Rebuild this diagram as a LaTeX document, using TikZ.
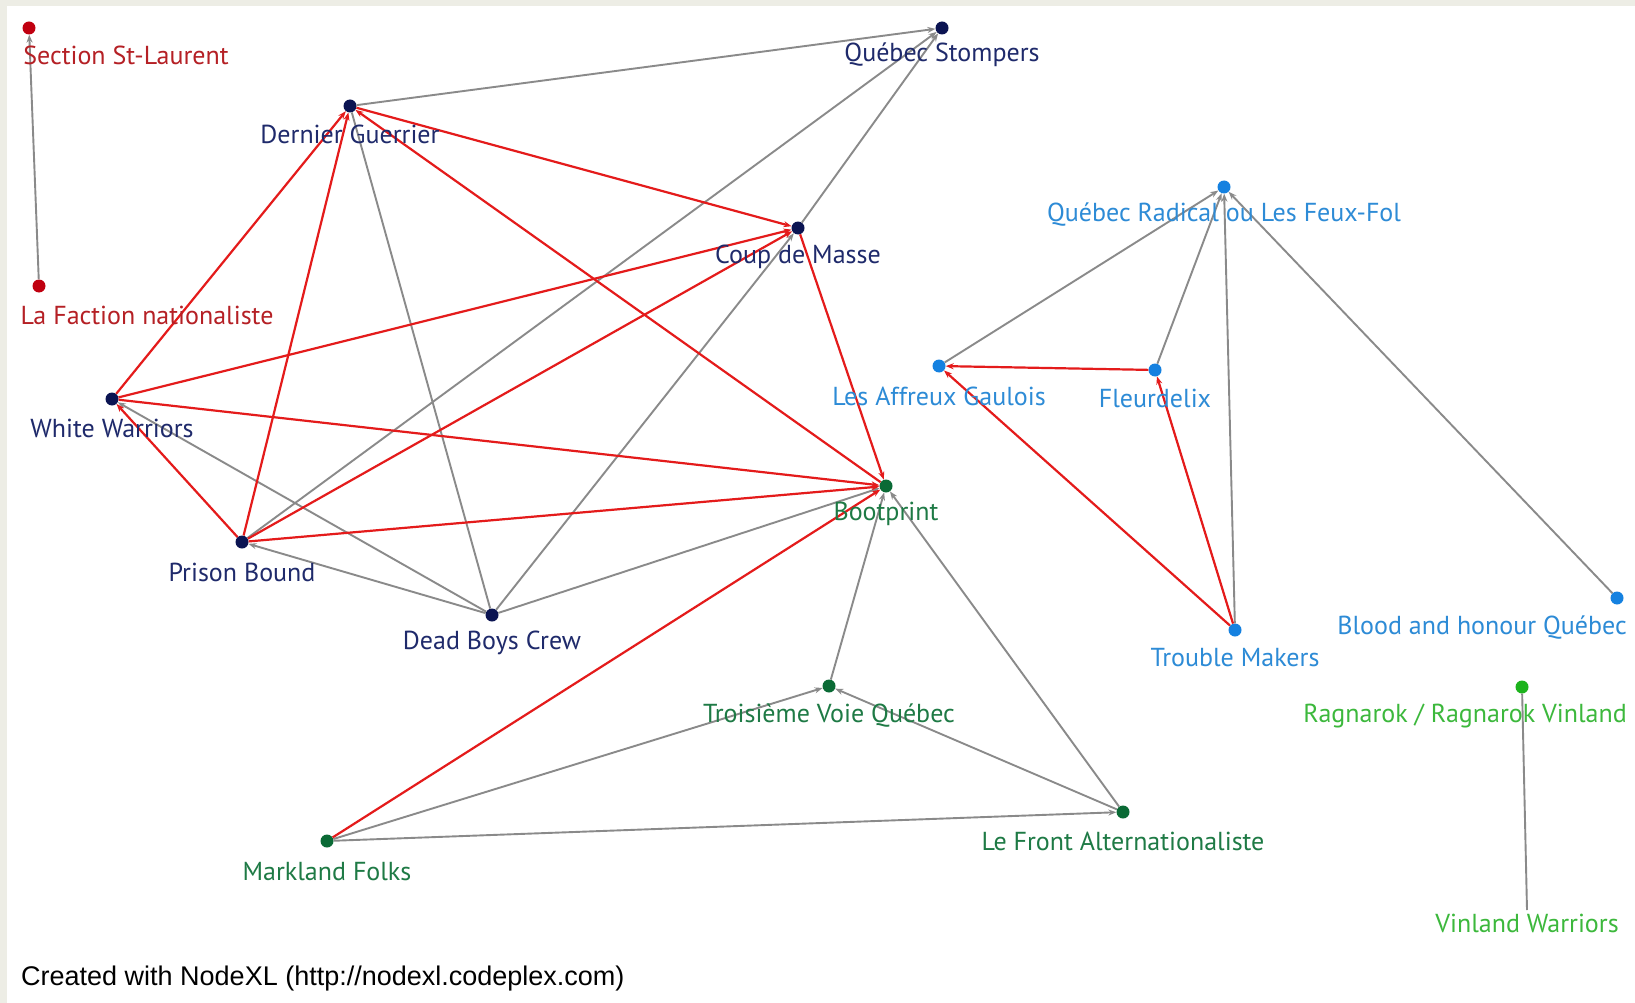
\documentclass[tikz,border=0pt]{standalone}
\usepackage{fontspec}
\setmainfont{PT Sans}
\newfontfamily\footfont{Liberation Sans}
\usetikzlibrary{arrows.meta}
\definecolor{frame}{HTML}{EDEDE5}
\definecolor{navyD}{HTML}{0B1452}
\definecolor{navyT}{HTML}{1F2A6B}
\definecolor{redD}{HTML}{C00010}
\definecolor{redT}{HTML}{B52025}
\definecolor{grnD}{HTML}{0A6A35}
\definecolor{grnT}{HTML}{1E7A45}
\definecolor{bluD}{HTML}{1581E0}
\definecolor{bluT}{HTML}{2D8BD6}
\definecolor{lgrD}{HTML}{1DB31D}
\definecolor{lgrT}{HTML}{3CB83C}
\definecolor{edgeG}{HTML}{8A8A8A}
\definecolor{edgeR}{HTML}{E41B1B}
\tikzset{
  vtx/.style={circle,inner sep=0pt,minimum size=13pt,fill=#1},
  lab/.style={inner sep=0pt,text=#1,font=\fontsize{26}{26}\selectfont},
  ge/.style={draw=edgeG,line width=1.9pt},
  re/.style={draw=edgeR,line width=2.2pt},
  tip/.style={-{Stealth[length=8pt,width=6pt]}},
}
\begin{document}
\begin{tikzpicture}[x=1pt,y=-1pt]
\fill[frame] (0,0) rectangle (1635,1003);
\fill[white] (7,6) rectangle (1635,1003);
\useasboundingbox (0,0) rectangle (1635,1003);

% vertices
\node[vtx=redD] (stl) at (29,28) {};
\node[vtx=redD] (fac) at (39,286) {};
\node[vtx=navyD] (dg) at (350,106) {};
\node[vtx=navyD] (qs) at (942,28) {};
\node[vtx=navyD] (cdm) at (798,228) {};
\node[vtx=navyD] (ww) at (112,399) {};
\node[vtx=navyD] (pb) at (242,542) {};
\node[vtx=navyD] (dbc) at (492,615) {};
\node[vtx=grnD] (bp) at (886,486) {};
\node[vtx=grnD] (tvq) at (829,686) {};
\node[vtx=grnD] (mf) at (327,841) {};
\node[vtx=grnD] (lfa) at (1123,812) {};
\node[vtx=bluD] (qr) at (1224,187) {};
\node[vtx=bluD] (ag) at (939,366) {};
\node[vtx=bluD] (fl) at (1155,370) {};
\node[vtx=bluD] (tm) at (1235,630) {};
\node[vtx=bluD] (bh) at (1617,598) {};
\node[vtx=lgrD] (rg) at (1522,687) {};
\coordinate (vw) at (1527,910);

% gray edges
\draw[ge,tip] (fac) -- (stl);
\draw[ge,tip] (dg) -- (qs);
\draw[ge,tip] (pb) -- (qs);
\draw[ge,tip] (cdm) -- (qs);
\draw[ge,tip] (dbc) -- (cdm);
\draw[ge] (dg) -- (dbc);
\draw[ge,tip] (dbc) -- (ww);
\draw[ge,tip] (dbc) -- (pb);
\draw[ge,tip] (dbc) -- (bp);
\draw[ge,tip] (tvq) -- (bp);
\draw[ge,tip] (lfa) -- (bp);
\draw[ge,tip] (mf) -- (tvq);
\draw[ge,tip] (lfa) -- (tvq);
\draw[ge,tip] (mf) -- (lfa);
\draw[ge,tip] (ag) -- (qr);
\draw[ge,tip] (fl) -- (qr);
\draw[ge,tip] (tm) -- (qr);
\draw[ge,tip] (bh) -- (qr);
\draw[ge] (rg) -- (vw);

% red edges
\draw[re,tip] (ww) -- (dg);
\draw[re,tip] (pb) -- (dg);
\draw[re,tip] (bp) -- (dg);
\draw[re,tip] (dg) -- (cdm);
\draw[re,tip] (ww) -- (cdm);
\draw[re,tip] (pb) -- (cdm);
\draw[re,tip] (cdm) -- (bp);
\draw[re,tip] (ww) -- (bp);
\draw[re,tip] (pb) -- (bp);
\draw[re,tip] (pb) -- (ww);
\draw[re,tip] (mf) -- (bp);
\draw[re,tip] (fl) -- (ag);
\draw[re,tip] (tm) -- (ag);
\draw[re,tip] (tm) -- (fl);

% labels
\node[lab=redT] (stl-t) at (126,55) {Section St-Laurent};
\node[lab=redT] (fac-t) at (147,315) {La Faction nationaliste};
\node[lab=navyT] (dg-t) at (350,134) {Dernier Guerrier};
\node[lab=navyT] (qs-t) at (942,55) {Québec Stompers};
\node[lab=navyT] (cdm-t) at (798,257) {Coup de Masse};
\node[lab=navyT] (ww-t) at (112,428) {White Warriors};
\node[lab=navyT] (pb-t) at (242,572) {Prison Bound};
\node[lab=navyT] (dbc-t) at (492,643) {Dead Boys Crew};
\node[lab=grnT] (bp-t) at (886,514) {Bootprint};
\node[lab=grnT] (tvq-t) at (829,716) {Troisième Voie Québec};
\node[lab=grnT] (mf-t) at (327,872) {Markland Folks};
\node[lab=grnT] (lfa-t) at (1123,841) {Le Front Alternationaliste};
\node[lab=bluT] (qr-t) at (1224,215) {Québec Radical ou Les Feux-Fol};
\node[lab=bluT] (ag-t) at (939,396) {Les Affreux Gaulois};
\node[lab=bluT] (fl-t) at (1155,398) {Fleurdelix};
\node[lab=bluT] (tm-t) at (1235,658) {Trouble Makers};
\node[lab=bluT,anchor=east] (bh-t) at (1627,628) {Blood and honour Québec};
\node[lab=lgrT,anchor=east] (rg-t) at (1627,716) {Ragnarok / Ragnarok Vinland};
\node[lab=lgrT] (vw-t) at (1527,923) {Vinland Warriors};
\node[inner sep=0pt,text=black,font=\footfont\fontsize{27}{27}\selectfont,anchor=west] (foot) at (21,979) {Created with NodeXL (http://nodexl.codeplex.com)};
\end{tikzpicture}
\end{document}
